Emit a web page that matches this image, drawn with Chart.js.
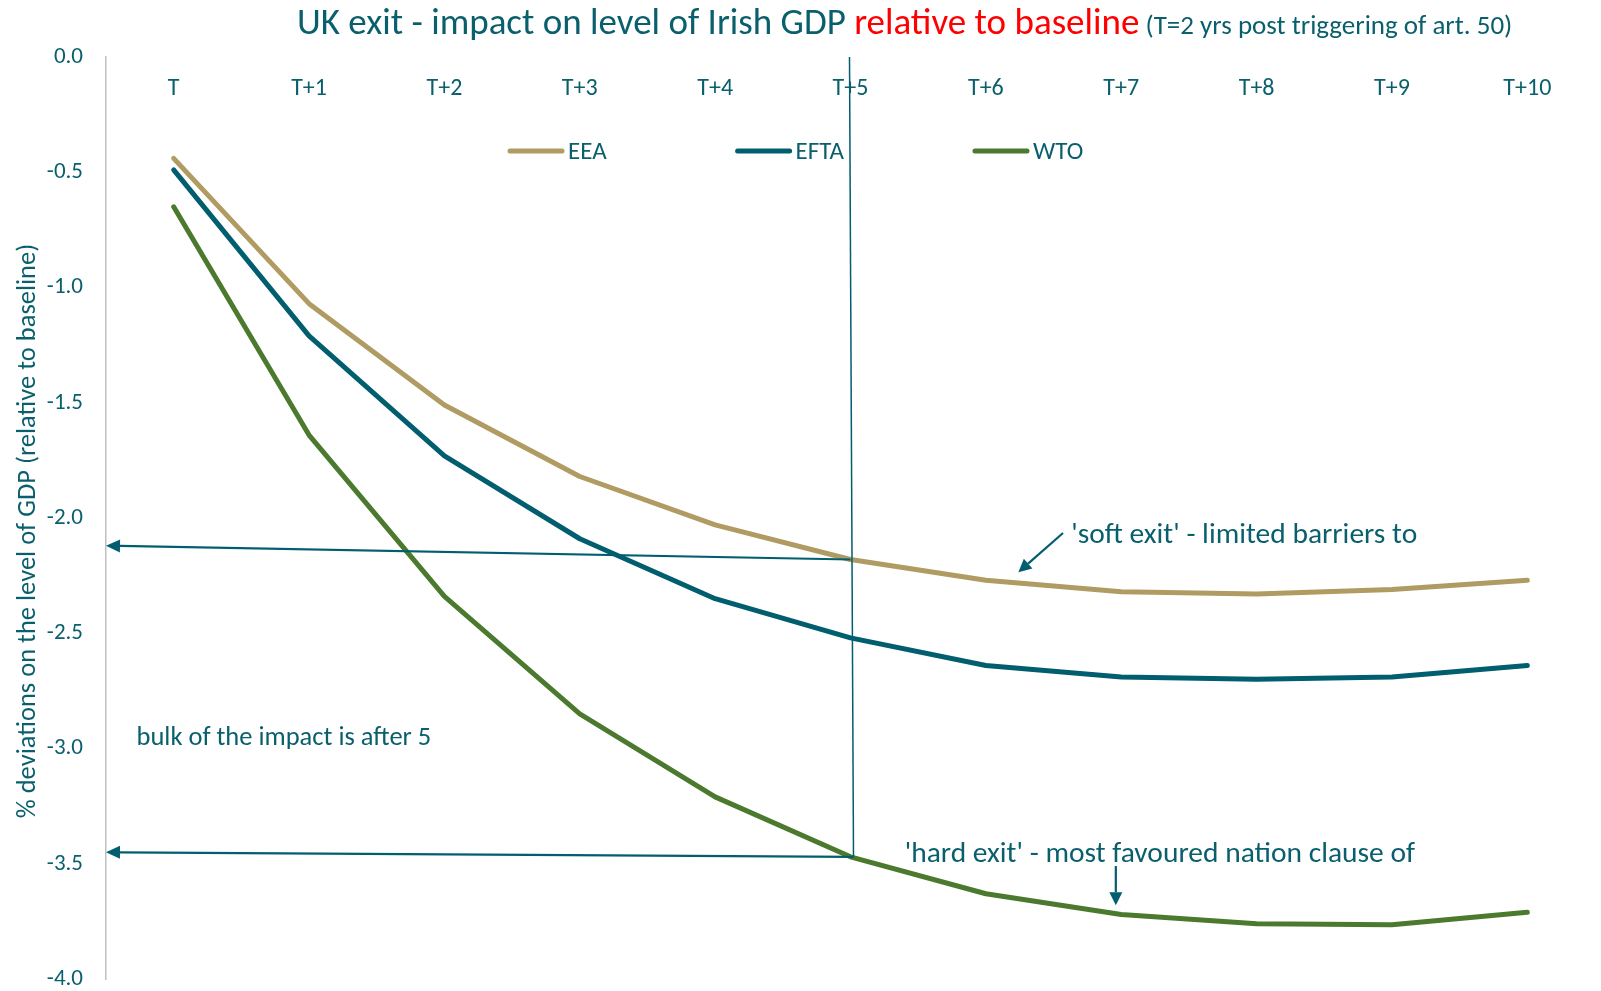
<!DOCTYPE html>
<html><head><meta charset="utf-8">
<script src="https://cdn.jsdelivr.net/npm/chart.js@4/dist/chart.umd.min.js"></script>
<style>html,body{margin:0;padding:0;background:#fff;overflow:hidden}#wrap{width:1601px;height:991px}</style>
</head><body><div id="wrap"><canvas id="c" width="1601" height="991"></canvas></div>
<script>
const categories = ['T','T+1','T+2','T+3','T+4','T+5','T+6','T+7','T+8','T+9','T+10'];
const eea  = [-0.44,-1.07,-1.51,-1.82,-2.03,-2.18,-2.27,-2.32,-2.33,-2.31,-2.27];
const efta = [-0.49,-1.21,-1.73,-2.09,-2.35,-2.52,-2.64,-2.69,-2.70,-2.69,-2.64];
const wto  = [-0.65,-1.64,-2.34,-2.85,-3.21,-3.47,-3.63,-3.72,-3.76,-3.765,-3.71];
const seriesNames = ['EEA','EFTA','WTO'];
const yTicks = [0,-0.5,-1,-1.5,-2,-2.5,-3,-3.5,-4];
const titleMain = 'UK exit - impact on level of Irish GDP ';
const titleRed = 'relative to baseline';
const titleSub = ' (T=2 yrs post triggering of art. 50)';
const yTitle = '% deviations on the level of GDP (relative to baseline)';
const noteSoft = "'soft exit' - limited barriers to";
const noteHard = "'hard exit' - most favoured nation clause of";
const noteBulk = 'bulk of the impact is after 5';

const FONT = '"Carlito", "Lato", sans-serif';
const TEAL = '#005E6E';
const TXT = '#0A5F6D';
const colors = ['#B09B63', '#005E6E', '#4B7A2F'];

function arrow(ctx, x1, y1, x2, y2, w, hl, hw) {
  const a = Math.atan2(y2 - y1, x2 - x1);
  const bx = x2 - hl * Math.cos(a), by = y2 - hl * Math.sin(a);
  ctx.beginPath(); ctx.moveTo(x1, y1); ctx.lineTo(bx, by);
  ctx.lineWidth = w; ctx.stroke();
  ctx.beginPath(); ctx.moveTo(x2, y2);
  ctx.lineTo(bx + hw * Math.sin(a), by - hw * Math.cos(a));
  ctx.lineTo(bx - hw * Math.sin(a), by + hw * Math.cos(a));
  ctx.closePath(); ctx.fill();
}

const decor = {
  id: 'decor',
  afterDatasetsDraw(chart) {
    const ctx = chart.ctx, x = chart.scales.x, y = chart.scales.y;
    ctx.save();
    ctx.strokeStyle = TEAL; ctx.fillStyle = TEAL;
    ctx.lineWidth = 1.5;
    ctx.beginPath(); ctx.moveTo(x.getPixelForValue(5) - 1, y.getPixelForValue(0));
    ctx.lineTo(x.getPixelForValue(5) + 3, y.getPixelForValue(wto[5])); ctx.stroke();
    arrow(ctx, x.getPixelForValue(5), y.getPixelForValue(eea[5]), x.getPixelForValue(-0.5), y.getPixelForValue(-2.12), 2.2, 14, 6.5);
    arrow(ctx, x.getPixelForValue(5) + 3, y.getPixelForValue(wto[5]), x.getPixelForValue(-0.5), y.getPixelForValue(-3.45), 2.2, 14, 6.5);
    arrow(ctx, x.getPixelForValue(6.57), y.getPixelForValue(-2.065), x.getPixelForValue(6.24), y.getPixelForValue(-2.235), 2.2, 13, 6.5);
    arrow(ctx, x.getPixelForValue(6.96), y.getPixelForValue(-3.51), x.getPixelForValue(6.96), y.getPixelForValue(-3.68), 2.2, 13, 6.5);
    ctx.fillStyle = TXT; ctx.textBaseline = 'middle'; ctx.textAlign = 'left';
    ctx.font = '29.5px ' + FONT;
    ctx.fillText(noteSoft, x.getPixelForValue(6.63), y.getPixelForValue(-2.065) + 3);
    ctx.fillText(noteHard, x.getPixelForValue(5.40), y.getPixelForValue(-3.45) + 2);
    ctx.font = '26.5px ' + FONT;
    ctx.fillText(noteBulk, x.getPixelForValue(-0.275), y.getPixelForValue(-2.945) + 3);
    ctx.restore();
  },
  afterDraw(chart) {
    const ctx = chart.ctx, x = chart.scales.x, ca = chart.chartArea;
    ctx.save();
    ctx.textBaseline = 'middle'; ctx.textAlign = 'left';
    let tx = 297;
    ctx.font = '37px ' + FONT; ctx.fillStyle = TXT;
    ctx.fillText(titleMain, tx, 25); tx += ctx.measureText(titleMain).width;
    ctx.fillStyle = '#FF0000';
    ctx.fillText(titleRed, tx, 25); tx += ctx.measureText(titleRed).width;
    ctx.font = '27px ' + FONT; ctx.fillStyle = TXT;
    ctx.fillText(titleSub, tx, 27);
    ctx.save();
    ctx.translate(28, 531); ctx.rotate(-Math.PI / 2);
    ctx.textAlign = 'center'; ctx.font = '26.5px ' + FONT; ctx.fillStyle = TXT;
    ctx.fillText(yTitle, 0, 0);
    ctx.restore();
    ctx.font = '24px ' + FONT; ctx.fillStyle = TXT; ctx.textAlign = 'center';
    categories.forEach((c, i) => ctx.fillText(c, x.getPixelForValue(i), ca.top + 32));
    ctx.textAlign = 'left'; ctx.font = '25px ' + FONT;
    let lx = 510; const ly = ca.top + 94;
    chart.data.datasets.forEach((ds) => {
      ctx.strokeStyle = ds.borderColor; ctx.lineWidth = 5; ctx.lineCap = 'round';
      ctx.beginPath(); ctx.moveTo(lx, ly); ctx.lineTo(lx + 52, ly); ctx.stroke();
      ctx.fillStyle = TXT;
      ctx.fillText(ds.label, lx + 58, ly + 2);
      lx += 58 + ctx.measureText(ds.label).width + 131;
    });
    ctx.restore();
  }
};

new Chart(document.getElementById('c'), {
  type: 'line',
  data: {
    labels: categories,
    datasets: [eea, efta, wto].map((d, i) => ({
      label: seriesNames[i], data: d, borderColor: colors[i], backgroundColor: colors[i],
      borderWidth: 5, pointRadius: 0, tension: 0, fill: false,
      borderCapStyle: 'round', borderJoinStyle: 'round'
    }))
  },
  options: {
    responsive: false, animation: false, devicePixelRatio: 1,
    layout: { padding: { top: 57, left: 0, right: 6, bottom: 12 } },
    plugins: { legend: { display: false }, title: { display: false }, tooltip: { enabled: false } },
    scales: {
      x: { type: 'category', offset: true, display: false },
      y: {
        min: -4, max: 0,
        afterBuildTicks: s => { s.ticks = yTicks.map(v => ({ value: v })); },
        afterFit: s => { s.width = 106; s.paddingTop = 0; s.paddingBottom = 0; },
        grid: { display: false, drawTicks: false },
        border: { display: true, color: '#C0C0C0', width: 1.5 },
        ticks: { color: TXT, padding: 23, font: { family: FONT, size: 23 }, callback: v => v.toFixed(1) }
      }
    }
  },
  plugins: [decor]
});
</script>
</body></html>
